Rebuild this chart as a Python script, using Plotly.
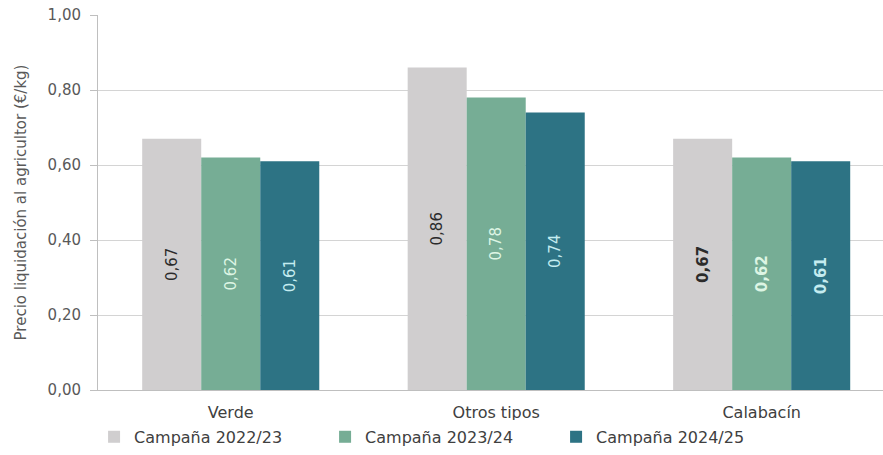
import plotly.graph_objects as go

categories = ["Verde", "Otros tipos", "Calabacín"]
series_names = ["Campaña 2022/23", "Campaña 2023/24", "Campaña 2024/25"]
v_2022 = [0.67, 0.86, 0.67]
v_2023 = [0.62, 0.78, 0.62]
v_2024 = [0.61, 0.74, 0.61]
y_ticks = [0, 0.2, 0.4, 0.6, 0.8, 1.0]

colors = ["#D0CECF", "#76AD95", "#2D7384"]
text_colors = ["#2b2b2b", "#DDF5E4", "#C4ECF0"]

FONT = "'DejaVu Sans', sans-serif"

fig = go.Figure()
for name, vals, col, tcol in zip(series_names, [v_2022, v_2023, v_2024], colors, text_colors):
    labels = []
    for i, v in enumerate(vals):
        s = f"{v:.2f}".replace(".", ",")
        if categories[i] == "Calabacín":
            s = f"<b>{s}</b>"
        labels.append(s)
    fig.add_trace(go.Bar(
        x=categories, y=vals, name=name,
        marker=dict(color=col, line=dict(width=0)),
        text=labels, textposition="inside", insidetextanchor="middle",
        textangle=-90, textfont=dict(color=tcol, size=15, family=FONT),
        hoverinfo="skip",
    ))

fig.update_layout(
    width=883, height=455,
    margin=dict(l=98, r=0, t=15, b=65),
    barmode="group", bargap=0.333, bargroupgap=0,
    plot_bgcolor="white", paper_bgcolor="white",
    separators=",.",
    font=dict(family=FONT, color="#595959", size=15),
    uniformtext=dict(minsize=8, mode="show"),
    legend=dict(orientation="h", x=-0.005, xanchor="left", y=-0.125, yanchor="middle",
                entrywidth=186, entrywidthmode="pixels",
                font=dict(size=16, color="#404040", family=FONT),
                itemwidth=30, traceorder="normal"),
    showlegend=True,
)
fig.update_xaxes(
    range=[-0.5, 2.457], showgrid=False, showline=True, linecolor="#bfbfbf", linewidth=1,
    ticks="", ticklabelstandoff=8, tickfont=dict(size=16, color="#404040"), fixedrange=True,
)
fig.update_yaxes(
    range=[0, 1.0], tickvals=y_ticks, tickformat=".2f",
    showgrid=True, gridcolor="#d4d4d4", gridwidth=1,
    showline=True, linecolor="#bfbfbf", linewidth=1,
    ticks="outside", ticklen=7, tickcolor="#bfbfbf", ticklabelstandoff=6,
    tickfont=dict(size=15, color="#595959"),
    title=dict(text="Precio liquidación al agricultor (€/kg)", font=dict(size=15, color="#595959"), standoff=17),
    zeroline=False,
)
fig.write_html("out.html")
